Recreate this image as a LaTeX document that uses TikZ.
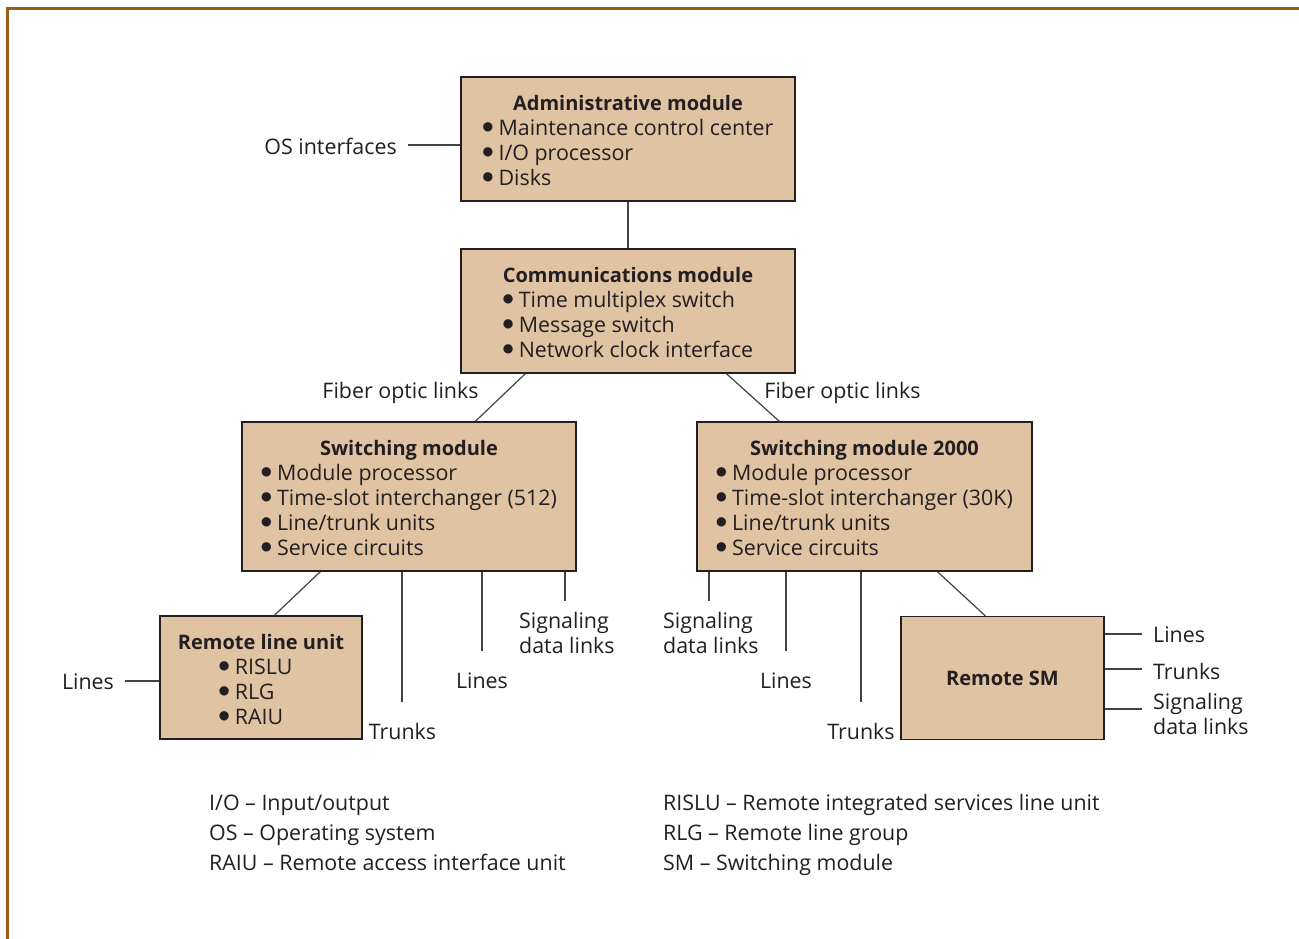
\documentclass[tikz,border=0pt]{standalone}
\usepackage{fontspec}
\setmainfont{Open Sans}
\newfontfamily\dvfont{DejaVu Sans}
\usetikzlibrary{calc}
\definecolor{boxfill}{RGB}{223,195,162}
\definecolor{framec}{RGB}{154,92,20}
\definecolor{ink}{RGB}{35,31,32}
\newcommand\fs{\fontsize{21.4}{25}\selectfont}
\newcommand\tf{\fontsize{20}{25}\selectfont\bfseries}
\newcommand\bul{\makebox[16pt][l]{\raisebox{4.9pt}{\dvfont\fontsize{12.2}{12.2}\selectfont ●}}}
\newcommand\toprule{\rule{0pt}{25.5pt}}
\tikzset{
  mod/.style={draw=ink, line width=1.3pt, fill=boxfill, inner sep=0pt, font=\fs, text=ink},
  lbl/.style={inner sep=0pt, font=\fs, text=ink},
  wire/.style={draw=ink!85, line width=1.2pt},
}
\begin{document}
\begin{tikzpicture}[x=1pt,y=-1pt]
\useasboundingbox (0,0) rectangle (1299,939);
\fill[white] (0,0) rectangle (1299,939);
\draw[framec, line width=3pt] (7.5,939) -- (7.5,8.5) -- (1299,8.5);

% modules
\node[mod, minimum width=334pt, minimum height=124pt] (adm) at (628,139)
  {\begin{tabular}{@{}l@{}}\multicolumn{1}{@{}c@{}}{\tf\toprule Administrative module}\\
   \bul Maintenance control center\\ \bul I/O processor\\ \bul Disks\end{tabular}};
\node[mod, minimum width=334pt, minimum height=124pt] (comm) at (628,311)
  {\begin{tabular}{@{}l@{}}\multicolumn{1}{@{}c@{}}{\tf\toprule Communications module}\\
   \bul Time multiplex switch\\ \bul Message switch\\ \bul Network clock interface\end{tabular}};
\node[mod, minimum width=334pt, minimum height=149pt] (sm) at (409,496.5)
  {\begin{tabular}{@{}l@{}}\multicolumn{1}{@{}c@{}}{\tf\toprule Switching module}\\
   \bul Module processor\\ \bul Time-slot interchanger (512)\\ \bul Line/trunk units\\ \bul Service circuits\end{tabular}};
\node[mod, minimum width=335pt, minimum height=149pt] (smb) at (864.5,496.5)
  {\begin{tabular}{@{}l@{}}\multicolumn{1}{@{}c@{}}{\tf\toprule Switching module 2000}\\
   \bul Module processor\\ \bul Time-slot interchanger (30K)\\ \bul Line/trunk units\\ \bul Service circuits\end{tabular}};
\node[mod, minimum width=202pt, minimum height=123pt] (rlu) at (261,677.5)
  {\begin{tabular}{@{}l@{}}{\tf\toprule Remote line unit}\\
   \hspace{41pt}\bul RISLU\\ \hspace{41pt}\bul RLG\\ \hspace{41pt}\bul RAIU\end{tabular}};
\node[mod, minimum width=203pt, minimum height=123pt, font=\tf] (rsm) at (1002.5,678) {Remote SM};

% labels
\node[lbl, anchor=base east] (os) at (397,155) {OS interfaces};
\node[lbl, anchor=base] (fol) at (400.5,398) {Fiber optic links};
\node[lbl, anchor=base] (for) at (842.5,398) {Fiber optic links};
\node[lbl, anchor=base] (lnl) at (88,689) {Lines};
\node[lbl, anchor=base] (trk1) at (402.5,739) {Trunks};
\node[lbl, anchor=base] (lin1) at (482,688) {Lines};
\node[lbl, anchor=base west] (sig1) at (519,628) {\begin{tabular}[t]{@{}l@{}}Signaling\\ data links\end{tabular}};
\node[lbl, anchor=base west] (sig2) at (663,628) {\begin{tabular}[t]{@{}l@{}}Signaling\\ data links\end{tabular}};
\node[lbl, anchor=base] (lin2) at (786,688) {Lines};
\node[lbl, anchor=base] (trk2) at (861,739) {Trunks};
\node[lbl, anchor=base west] (lin3) at (1153,642) {Lines};
\node[lbl, anchor=base west] (trk3) at (1153,679) {Trunks};
\node[lbl, anchor=base west] (sig3) at (1153,709) {\begin{tabular}[t]{@{}l@{}}Signaling\\ data links\end{tabular}};

% connector end points
\coordinate (osE) at (408,145);
\coordinate (lnlE) at (125,681);
\coordinate (t1) at (402,702);
\coordinate (l1) at (482,651);
\coordinate (s1) at (565,601);
\coordinate (s2) at (709,601);
\coordinate (l2) at (786,651);
\coordinate (t2) at (861,702);
\coordinate (r1) at (1142,634);
\coordinate (r2) at (1142,669);
\coordinate (r3) at (1142,709);

% connectors
\draw[wire] (osE) -- (osE -| adm.west);
\draw[wire] (adm.south) -- (comm.north);
\draw[wire] ($(comm.south west)+(65,0)$) -- ($(sm.north west)+(234,0)$);
\draw[wire] ($(comm.south west)+(266,0)$) -- ($(smb.north west)+(83,0)$);
\draw[wire] ($(sm.south west)+(79,0)$) -- ($(rlu.north west)+(115,0)$);
\draw[wire] ($(smb.south west)+(241,0)$) -- ($(rsm.north west)+(85,0)$);
\draw[wire] (lnlE) -- (lnlE -| rlu.west);
\draw[wire] (t1 |- sm.south) -- (t1);
\draw[wire] (l1 |- sm.south) -- (l1);
\draw[wire] (s1 |- sm.south) -- (s1);
\draw[wire] (s2 |- smb.south) -- (s2);
\draw[wire] (l2 |- smb.south) -- (l2);
\draw[wire] (t2 |- smb.south) -- (t2);
\draw[wire] (r1 -| rsm.east) -- (r1);
\draw[wire] (r2 -| rsm.east) -- (r2);
\draw[wire] (r3 -| rsm.east) -- (r3);

% legend
\node[lbl, anchor=base west] (g1) at (209,810) {I/O – Input/output};
\node[lbl, anchor=base west] (g2) at (209,840) {OS – Operating system};
\node[lbl, anchor=base west] (g3) at (209,870) {RAIU – Remote access interface unit};
\node[lbl, anchor=base west] (g4) at (663,810) {RISLU – Remote integrated services line unit};
\node[lbl, anchor=base west] (g5) at (663,840) {RLG – Remote line group};
\node[lbl, anchor=base west] (g6) at (663,870) {SM – Switching module};
\end{tikzpicture}
\end{document}
